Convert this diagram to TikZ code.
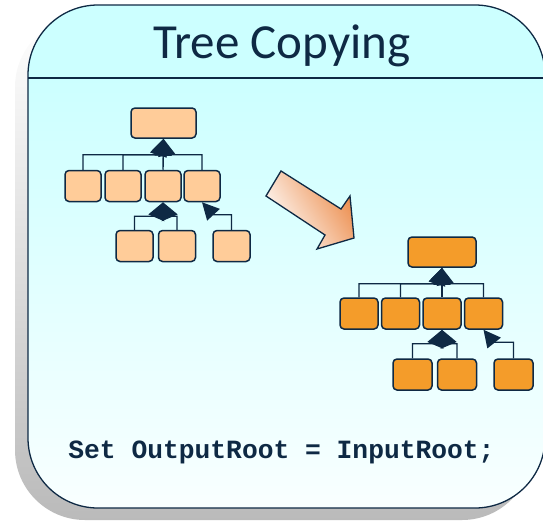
\documentclass[tikz,border=0pt]{standalone}
\usepackage{fontspec}
\setmainfont{Carlito}
\setmonofont{Liberation Mono}
\usetikzlibrary{arrows.meta,calc}
\definecolor{navy}{RGB}{14,41,68}
\definecolor{sky}{RGB}{204,255,255}
\definecolor{peach}{RGB}{255,204,153}
\definecolor{amber}{RGB}{244,156,42}
\definecolor{rust}{RGB}{236,140,75}
\tikzset{
	box/.style 2 args={draw=navy,line width=1.5pt,rounded corners=4pt,fill=#1,minimum width=#2,minimum height=31pt,inner sep=0pt},
	link/.style={draw=navy,line width=1.4pt,-{Triangle[length=17pt,width=17pt]}}
}

\begin{document}
\begin{tikzpicture}[x=1pt,y=-1pt]
	\useasboundingbox (0,0) rectangle (543,522);
	\clip (0,0) rectangle (543,522);

	% shadow and frame
	\shade[top color=white,bottom color=black!27,rounded corners=70pt] (15,17) rectangle (532,520);
	\begin{scope}
		\clip[rounded corners=70pt] (28,5) rectangle (545,508);
		\shade[top color=sky,bottom color=sky!12] (28,78) rectangle (545,508);
		\fill[sky] (28,5) rectangle (545,78);
	\end{scope}
	\draw[navy,line width=1.3pt] (28,78) -- (545,78);
	\draw[navy,line width=1.3pt,rounded corners=70pt] (28,5) rectangle (545,508);

	\node[navy,font=\fontsize{49}{55}\selectfont,anchor=base] (title) at (282,58) {Tree Copying};

	% input tree
	\node[box={peach}{65pt},minimum height=30pt] (sroot) at (163.5,123) {};
	\node[box={peach}{36pt}] (s1) at (83,186) {};
	\node[box={peach}{36pt}] (s2) at (123,186) {};
	\node[box={peach}{36pt}] (s3) at (163,186) {};
	\node[box={peach}{36pt}] (s4) at (202,186) {};
	\node[box={peach}{37pt}] (s5) at (134.5,246) {};
	\node[box={peach}{37pt}] (s6) at (177,246) {};
	\node[box={peach}{37pt}] (s7) at (231.5,246) {};

	\draw[link] (s1.north) |- ($(sroot.south)+(-5,16)$) -- (sroot.south);
	\draw[link] (s2.north) |- ($(sroot.south)+(-5,16)$) -- (sroot.south);
	\draw[link] (s3.north) -- (sroot.south);
	\draw[link] (s4.north) |- ($(sroot.south)+(3,16)$) -- (sroot.south);

	\draw[link] (s5.north) |- ($(s3.south)+(-6,14)$) -- (s3.south);
	\draw[link] (s6.north) |- ($(s3.south)+(6,14)$) -- (s3.south);
	\draw[link] (s7.north) |- ++(-18,-15) -- (s4.south);

	% copy arrow
	\draw[navy,line width=1.3pt,top color=rust,bottom color=white,shading angle=-58]
		(266,196) -- (281,171) -- (341,209) -- (350,196) -- (354,238) -- (317,249) -- (325,235) -- cycle;

	% output tree
	\node[box={amber}{68pt},minimum height=30pt] (rroot) at (442,252) {};
	\node[box={amber}{38pt}] (r1) at (359,313.5) {};
	\node[box={amber}{38pt}] (r2) at (400.5,313.5) {};
	\node[box={amber}{38pt}] (r3) at (442,313.5) {};
	\node[box={amber}{38pt}] (r4) at (483.5,313.5) {};
	\node[box={amber}{39pt}] (r5) at (412.5,374.5) {};
	\node[box={amber}{39pt}] (r6) at (457,374.5) {};
	\node[box={amber}{39pt}] (r7) at (513.5,374.5) {};

	\draw[link] (r1.north) |- ($(rroot.south)+(-5,16)$) -- (rroot.south);
	\draw[link] (r2.north) |- ($(rroot.south)+(-5,16)$) -- (rroot.south);
	\draw[link] (r3.north) -- (rroot.south);
	\draw[link] (r4.north) |- ($(rroot.south)+(3,16)$) -- (rroot.south);

	\draw[link] (r5.north) |- ($(r3.south)+(-6,14)$) -- (r3.south);
	\draw[link] (r6.north) |- ($(r3.south)+(6,14)$) -- (r3.south);
	\draw[link] (r7.north) |- ++(-20,-16) -- (r4.south);

	\node[navy,font=\ttfamily\bfseries\fontsize{26.3}{30}\selectfont,anchor=base] (cmd) at (281.5,458) {Set OutputRoot = InputRoot;};
\end{tikzpicture}
\end{document}
